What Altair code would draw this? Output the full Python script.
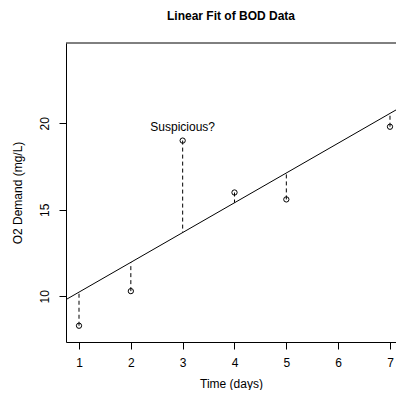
import altair as alt
import pandas as pd
import numpy as np

time_days = [1, 2, 3, 4, 5, 7]
demand = [8.3, 10.3, 19.0, 16.0, 15.6, 19.8]
note_label = ["Suspicious?"]
note_x = [3]
note_y = [19.0]

slope, intercept = np.polyfit(time_days, demand, 1)
df = pd.DataFrame({"time": time_days, "demand": demand})
df["fit"] = intercept + slope * df["time"]
notes = pd.DataFrame({"label": note_label, "time": note_x, "demand": note_y})

FONT = "Liberation Sans"
xdom = [0.749, 7.116]
ydom = [7.36, 24.64]

xenc = alt.X("time:Q", scale=alt.Scale(domain=xdom, nice=False, zero=False),
             axis=alt.Axis(values=[1, 2, 3, 4, 5, 6, 7], format="d", title="Time (days)",
                           grid=False, domain=True, domainColor="black", domainWidth=1,
                           tickColor="black", tickSize=7, labelColor="black",
                           labelFont=FONT, labelFontSize=12, labelPadding=8,
                           titleFont=FONT, titleFontSize=12, titleFontWeight="normal",
                           titleColor="black", titlePadding=10))
yenc = alt.Y("demand:Q", scale=alt.Scale(domain=ydom, nice=False, zero=False),
             axis=alt.Axis(values=[10, 15, 20], format="d", title="O2 Demand (mg/L)",
                           grid=False, domain=True, domainColor="black", domainWidth=1,
                           tickColor="black", tickSize=7, labelColor="black",
                           labelFont=FONT, labelFontSize=12, labelAngle=270,
                           labelAlign="center", labelBaseline="bottom", labelPadding=8,
                           titleFont=FONT, titleFontSize=12, titleFontWeight="normal",
                           titleColor="black", titlePadding=14))

base = alt.Chart(df)

line = base.transform_regression("time", "demand", extent=xdom).mark_line(
    color="black", strokeWidth=1, clip=True).encode(x=xenc, y=yenc)

top_edge = alt.Chart(pd.DataFrame({"top": [ydom[1]]})).mark_rule(
    color="black", strokeWidth=1).encode(y="top:Q")

segs = base.mark_rule(color="black", strokeWidth=1, strokeDash=[4, 3]).encode(
    x="time:Q", y="demand:Q", y2="fit:Q")

pts = base.mark_point(shape="circle", filled=False, color="black", size=28,
                      strokeWidth=1, opacity=1).encode(x="time:Q", y="demand:Q")

txt = alt.Chart(notes).mark_text(font=FONT, fontSize=12, color="black", dy=-14).encode(
    x="time:Q", y="demand:Q", text="label:N")

chart = alt.layer(line, top_edge, segs, pts, txt).properties(
    width=330, height=299,
    title=alt.TitleParams("Linear Fit of BOD Data", font=FONT, fontSize=12,
                          fontWeight="bold", color="black", anchor="middle", offset=20),
    autosize=alt.AutoSizeParams(type="none"),
    padding={"left": 58, "top": 35, "right": 0, "bottom": 48},
).configure_view(stroke=None)

chart.save("out.html", embed_options={"renderer": "svg", "actions": False})
